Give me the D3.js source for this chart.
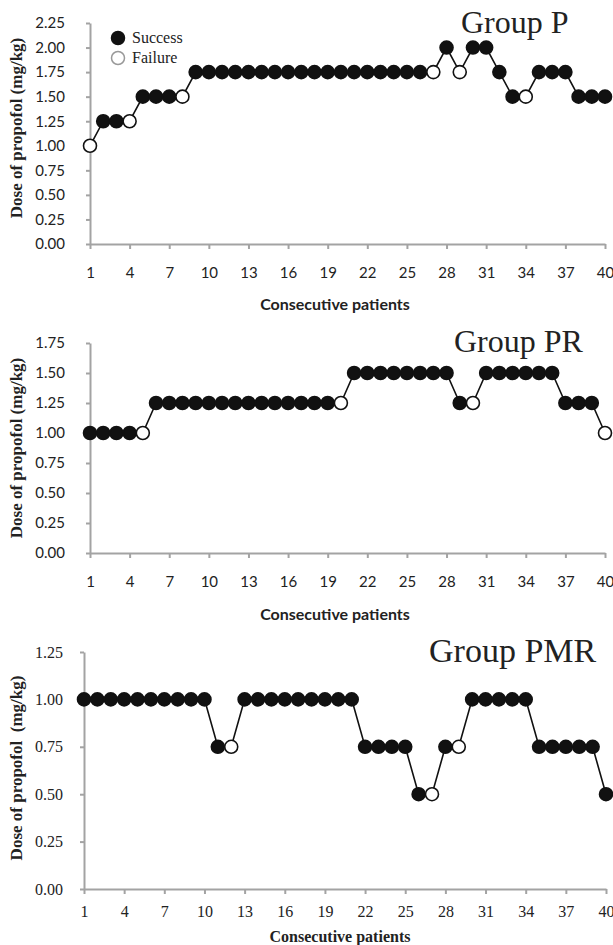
<!DOCTYPE html>
<html>
<head>
<meta charset="utf-8">
<script src="https://cdnjs.cloudflare.com/ajax/libs/d3/7.8.5/d3.min.js"></script>
<style>
  html, body { margin: 0; padding: 0; background: #fff; }
</style>
</head>
<body>
<script>
// Data: dose per consecutive patient, 1 = success, 0 = failure
var PATIENTS = [1, 2, 3, 4, 5, 6, 7, 8, 9, 10, 11, 12, 13, 14, 15, 16, 17, 18, 19, 20,
  21, 22, 23, 24, 25, 26, 27, 28, 29, 30, 31, 32, 33, 34, 35, 36, 37, 38, 39, 40];
var X_TICKS = [1, 4, 7, 10, 13, 16, 19, 22, 25, 28, 31, 34, 37, 40];

var DOSE_P = [1.00, 1.25, 1.25, 1.25, 1.50, 1.50, 1.50, 1.50, 1.75, 1.75,
  1.75, 1.75, 1.75, 1.75, 1.75, 1.75, 1.75, 1.75, 1.75, 1.75,
  1.75, 1.75, 1.75, 1.75, 1.75, 1.75, 1.75, 2.00, 1.75, 2.00,
  2.00, 1.75, 1.50, 1.50, 1.75, 1.75, 1.75, 1.50, 1.50, 1.50];
var OUTCOME_P = [0, 1, 1, 0, 1, 1, 1, 0, 1, 1,
  1, 1, 1, 1, 1, 1, 1, 1, 1, 1,
  1, 1, 1, 1, 1, 1, 0, 1, 0, 1,
  1, 1, 1, 0, 1, 1, 1, 1, 1, 1];
var Y_TICKS_P = [0, 0.25, 0.5, 0.75, 1, 1.25, 1.5, 1.75, 2, 2.25];

var DOSE_PR = [1.00, 1.00, 1.00, 1.00, 1.00, 1.25, 1.25, 1.25, 1.25, 1.25,
  1.25, 1.25, 1.25, 1.25, 1.25, 1.25, 1.25, 1.25, 1.25, 1.25,
  1.50, 1.50, 1.50, 1.50, 1.50, 1.50, 1.50, 1.50, 1.25, 1.25,
  1.50, 1.50, 1.50, 1.50, 1.50, 1.50, 1.25, 1.25, 1.25, 1.00];
var OUTCOME_PR = [1, 1, 1, 1, 0, 1, 1, 1, 1, 1,
  1, 1, 1, 1, 1, 1, 1, 1, 1, 0,
  1, 1, 1, 1, 1, 1, 1, 1, 1, 0,
  1, 1, 1, 1, 1, 1, 1, 1, 1, 0];
var Y_TICKS_PR = [0, 0.25, 0.5, 0.75, 1, 1.25, 1.5, 1.75];

var DOSE_PMR = [1.00, 1.00, 1.00, 1.00, 1.00, 1.00, 1.00, 1.00, 1.00, 1.00,
  0.75, 0.75, 1.00, 1.00, 1.00, 1.00, 1.00, 1.00, 1.00, 1.00,
  1.00, 0.75, 0.75, 0.75, 0.75, 0.50, 0.50, 0.75, 0.75, 1.00,
  1.00, 1.00, 1.00, 1.00, 0.75, 0.75, 0.75, 0.75, 0.75, 0.50];
var OUTCOME_PMR = [1, 1, 1, 1, 1, 1, 1, 1, 1, 1,
  1, 0, 1, 1, 1, 1, 1, 1, 1, 1,
  1, 1, 1, 1, 1, 1, 0, 1, 0, 1,
  1, 1, 1, 1, 1, 1, 1, 1, 1, 1];
var Y_TICKS_PMR = [0, 0.25, 0.5, 0.75, 1, 1.25];

var LEGEND_LABELS = ['Success', 'Failure'];

// Constants
var WIDTH = 613;
var HEIGHT = 945;
var AXIS_COLOR = '#a3a3a3';
var TEXT_COLOR = '#222';
var DOT_COLOR = '#111';
var RADIUS = 6.5;
var SANS = 'Lato, "Open Sans", sans-serif';
var SERIF = '"Liberation Serif", "Times New Roman", serif';

var svg = d3.select('body').append('svg')
  .attr('width', WIDTH)
  .attr('height', HEIGHT);

var panels = [
  {
    name: 'Group P', dose: DOSE_P, outcome: OUTCOME_P, yTicks: Y_TICKS_P, yMax: 2.25,
    x0: 90, x1: 605, yTop: 23, yBottom: 244, font: SANS, tickSize: 15,
    yLabelPad: 21, xLabelPad: 18, titleY: 310, titleFont: SANS, titleSize: 16, titleX: 335,
    yTitle: 'Dose of propofol (mg/kg)', yTitleCenter: 128,
    groupX: 461, groupY: 33, groupSize: 32
  },
  {
    name: 'Group PR', dose: DOSE_PR, outcome: OUTCOME_PR, yTicks: Y_TICKS_PR, yMax: 1.75,
    x0: 90, x1: 605, yTop: 343, yBottom: 553, font: SANS, tickSize: 15,
    yLabelPad: 21, xLabelPad: 18, titleY: 620, titleFont: SANS, titleSize: 16, titleX: 335,
    yTitle: 'Dose of propofol (mg/kg)', yTitleCenter: 448,
    groupX: 454, groupY: 352, groupSize: 32
  },
  {
    name: 'Group PMR', dose: DOSE_PMR, outcome: OUTCOME_PMR, yTicks: Y_TICKS_PMR, yMax: 1.25,
    x0: 84, x1: 606, yTop: 652, yBottom: 889, font: SERIF, tickSize: 16,
    yLabelPad: 17, xLabelPad: 12, titleY: 942, titleFont: SERIF, titleSize: 16, titleX: 340,
    yTitle: 'Dose of propofol  (mg/kg)', yTitleCenter: 768,
    groupX: 429, groupY: 662, groupSize: 34
  }
];

panels.forEach(drawPanel);

function drawPanel(p) {
  var x = d3.scaleLinear().domain([1, 40]).range([p.x0, p.x1]);
  var y = d3.scaleLinear().domain([0, p.yMax]).range([p.yBottom, p.yTop]);
  var g = svg.append('g');

  var yAxis = g.append('g')
    .attr('transform', 'translate(' + p.x0 + ',0)')
    .call(d3.axisLeft(y)
      .tickValues(p.yTicks)
      .tickFormat(d3.format('.2f'))
      .tickSize(4)
      .tickSizeOuter(0)
      .tickPadding(p.yLabelPad));

  var xAxis = g.append('g')
    .attr('transform', 'translate(0,' + p.yBottom + ')')
    .call(d3.axisBottom(x)
      .tickValues(X_TICKS)
      .tickSize(5)
      .tickSizeOuter(0)
      .tickPadding(p.xLabelPad));

  [yAxis, xAxis].forEach(function (a) {
    a.select('.domain').attr('stroke', AXIS_COLOR).attr('stroke-width', 2);
    a.selectAll('.tick line').attr('stroke', AXIS_COLOR).attr('stroke-width', 2);
    a.selectAll('.tick text')
      .attr('fill', TEXT_COLOR)
      .style('font-family', p.font)
      .style('font-size', p.tickSize + 'px');
  });

  var rows = PATIENTS.map(function (d, i) {
    return { patient: d, dose: p.dose[i], ok: p.outcome[i] };
  });

  var line = d3.line()
    .x(function (d) { return x(d.patient); })
    .y(function (d) { return y(d.dose); });

  g.append('path')
    .attr('d', line(rows))
    .attr('fill', 'none')
    .attr('stroke', DOT_COLOR)
    .attr('stroke-width', 1.6);

  g.selectAll('circle.dot')
    .data(rows)
    .enter().append('circle')
    .attr('class', 'dot')
    .attr('cx', function (d) { return x(d.patient); })
    .attr('cy', function (d) { return y(d.dose); })
    .attr('r', RADIUS)
    .attr('fill', function (d) { return d.ok ? DOT_COLOR : '#fff'; })
    .attr('stroke', DOT_COLOR)
    .attr('stroke-width', 1.6);

  // axis titles
  g.append('text')
    .attr('x', p.titleX)
    .attr('y', p.titleY)
    .attr('text-anchor', 'middle')
    .attr('fill', TEXT_COLOR)
    .style('font-family', p.titleFont)
    .style('font-weight', 'bold')
    .style('font-size', p.titleSize + 'px')
    .text('Consecutive patients');

  g.append('text')
    .attr('transform', 'translate(22,' + p.yTitleCenter + ') rotate(-90)')
    .attr('text-anchor', 'middle')
    .attr('fill', TEXT_COLOR)
    .style('font-family', SERIF)
    .style('font-weight', 'bold')
    .style('font-size', '17px')
    .style('white-space', 'pre')
    .text(p.yTitle);

  g.append('text')
    .attr('x', p.groupX)
    .attr('y', p.groupY)
    .attr('fill', TEXT_COLOR)
    .style('font-family', SERIF)
    .style('font-size', p.groupSize + 'px')
    .text(p.name);
}

// legend (top panel only)
var legend = svg.append('g');

legend.selectAll('circle')
  .data(LEGEND_LABELS)
  .enter().append('circle')
  .attr('cx', 118)
  .attr('cy', function (d, i) { return 38 + i * 20; })
  .attr('r', RADIUS)
  .attr('fill', function (d, i) { return i === 0 ? DOT_COLOR : '#fff'; })
  .attr('stroke', function (d, i) { return i === 0 ? DOT_COLOR : '#999'; })
  .attr('stroke-width', 1.5);

legend.selectAll('text')
  .data(LEGEND_LABELS)
  .enter().append('text')
  .attr('x', 132)
  .attr('y', function (d, i) { return 43 + i * 20; })
  .attr('fill', TEXT_COLOR)
  .style('font-family', SERIF)
  .style('font-size', '16px')
  .text(function (d) { return d; });
</script>
</body>
</html>
